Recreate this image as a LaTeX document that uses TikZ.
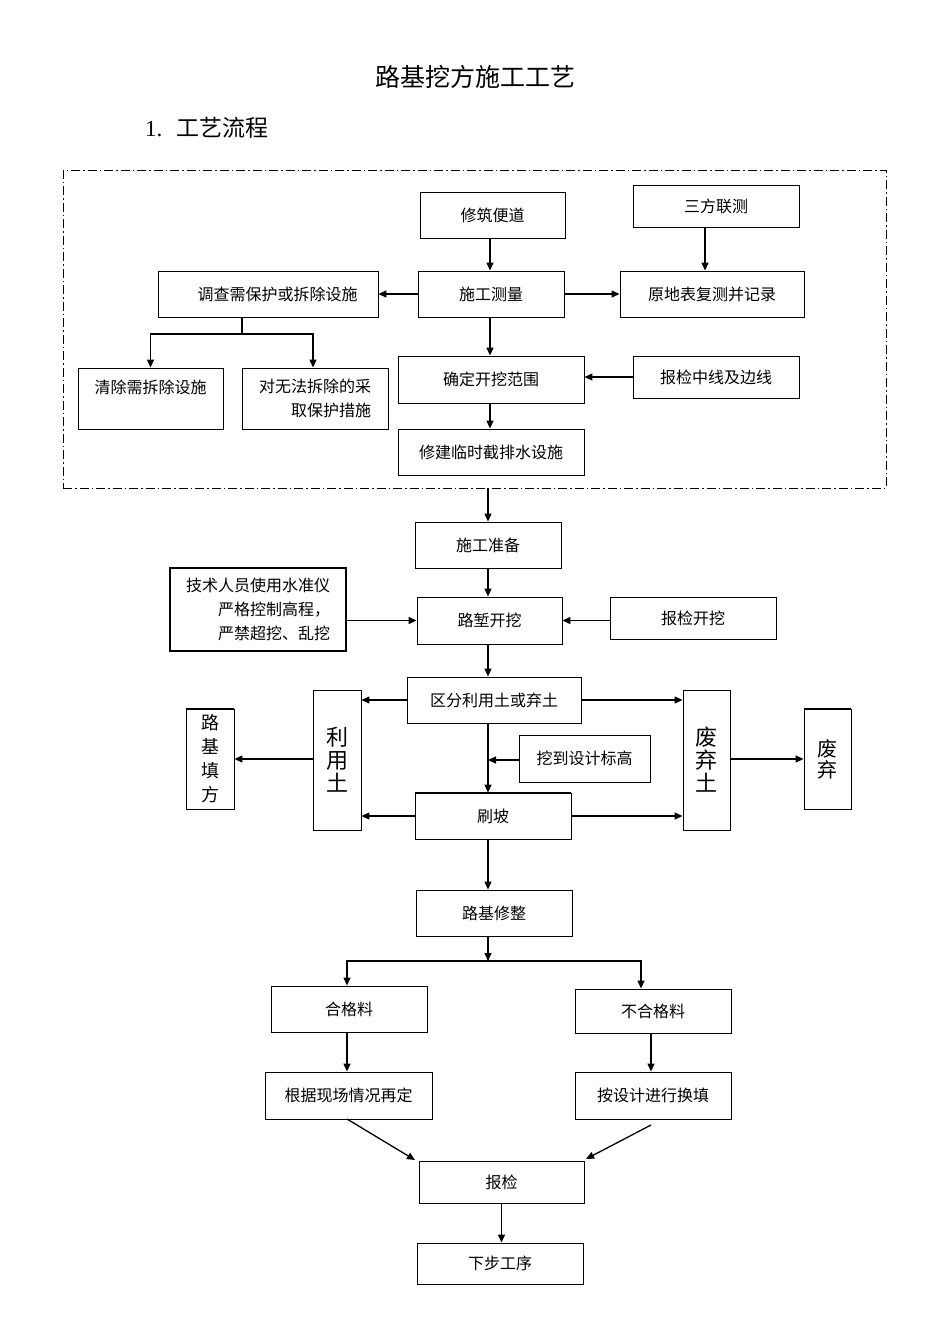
\documentclass[tikz,border=0pt]{standalone}
\usepackage{fontspec}
\setmainfont{Liberation Serif}
\newfontfamily\cjk{Noto Sans CJK SC}
\usetikzlibrary{arrows.meta,calc}
\begin{document}
\begin{tikzpicture}[x=1pt,y=-1pt,
  box/.style={draw, line width=0.9pt, inner sep=0pt, align=center, font=\cjk\fontsize{16}{24}\selectfont},
  sz/.style 2 args={minimum width=#1, minimum height=#2},
  arr/.style={line width=1.3pt, -{Triangle[length=8pt,width=7pt]}},
  ln/.style={line width=1.3pt},
  vbig/.style={font=\cjk\fontsize{22}{23}\selectfont},
  vsmall/.style={font=\cjk\fontsize{18}{24}\selectfont}]
\useasboundingbox (0,0) rectangle (950,1344);

% titles
\node[font=\cjk\fontsize{25}{30}\selectfont] (title) at (475,77) {路基挖方施工工艺};
\node[anchor=west, font=\fontsize{23}{28}\selectfont, inner sep=0pt] (sec) at (145,128) {1.\hspace{0.6em}{\cjk 工艺流程}};

% dash-dot frame
\node[draw, line width=0.9pt, dash pattern=on 9pt off 3pt on 1.5pt off 3pt, sz={823}{318}, inner sep=0pt] (frame) at (474.5,329) {};

% upper part
\node[box, sz={145}{46}] (xzbd) at (492.5,215) {修筑便道};
\node[box, sz={166}{42}] (sflc) at (716,206) {三方联测};
\node[box, sz={146}{46}] (sgcl) at (491,294) {施工测量};
\node[box, sz={184}{46}] (ydb) at (712,294) {原地表复测并记录};
\node[box, sz={220}{46}] (dc) at (268,294) {\hspace{1.2em}调查需保护或拆除设施};
\node[box, sz={145}{61}] (qc) at (150.5,398.5) {清除需拆除设施\\\mbox{}};
\node[box, sz={146}{61}, align=right] (dw) at (315,398.5) {对无法拆除的采\\取保护措施\hspace{0.3em}};
\node[box, sz={186}{47}] (qd) at (491,379.5) {确定开挖范围};
\node[box, sz={166}{42}] (bjzx) at (716,377) {报检中线及边线};
\node[box, sz={186}{46}] (xj) at (491,452) {修建临时截排水设施};

% middle part
\node[box, sz={146}{46}] (sgzb) at (488,545) {施工准备};
\node[box, sz={176}{83}, align=right, line width=1.4pt] (js) at (258,609.5) {技术人员使用水准仪\\严格控制高程，\\严禁超挖、乱挖};
\node[box, sz={145}{47}] (lqkw) at (489.5,620.5) {路堑开挖};
\node[box, sz={166}{42}] (bjkw) at (693,618) {报检开挖};
\node[box, sz={174}{46}] (qf) at (494,700) {区分利用土或弃土};
\node[box, sz={48}{140}, vbig] (lyt) at (337,760) {利\\用\\土};
\node[box, sz={48}{100}, vsmall] (ljtf) at (210,759) {路\\基\\填\\方};
\node[box, sz={131}{47}] (wd) at (584.5,758.5) {挖到设计标高};
\node[box, sz={47}{140}, vbig] (fqt) at (706.5,760) {废\\弃\\土};
\node[box, sz={47}{100}, font=\cjk\fontsize{20}{21}\selectfont] (fq) at (827.5,759) {废\\弃};
\node[box, sz={156}{46}] (sp) at (493,816) {刷坡};
\draw[line width=1.6pt] (ljtf.north west) -- (ljtf.north east);
\draw[line width=1.6pt] (fq.north west) -- (fq.north east);
\draw[line width=1.6pt] (sp.north west) -- (sp.north east);

% lower part
\node[box, sz={156}{46}] (ljxz) at (494,913) {路基修整};
\node[box, sz={156}{46}] (hgl) at (349,1009) {合格料};
\node[box, sz={156}{44}] (bhgl) at (653,1011) {不合格料};
\node[box, sz={167}{47}] (gj) at (348.5,1095.5) {根据现场情况再定};
\node[box, sz={156}{47}] (asj) at (653,1095.5) {按设计进行换填};
\node[box, sz={165}{42}] (bj) at (501.5,1182) {报检};
\node[box, sz={166}{41}] (xbgx) at (500,1263.5) {下步工序};

% junctions and offset points
\coordinate (j1) at (242,334);
\coordinate (j2) at (488,961);
\coordinate (jw) at (488,760);
\coordinate (a1) at (490,238);
\coordinate (a2) at (705,227);
\coordinate (a3) at (490,317);
\coordinate (a4) at (490,403);
\coordinate (a5) at (347,1032);
\coordinate (a6) at (651,1033);
\coordinate (a7) at (347,1119);
\coordinate (a8) at (651,1125);
\coordinate (a9) at (313,334);
\coordinate (b1) at (641,961);
\coordinate (b2) at (347,961);
\coordinate (t1) at (415,1160);
\coordinate (t2) at (586,1159);

% connectors upper
\draw[arr] (a1) -- (a1 |- sgcl.north);
\draw[arr] (a2) -- (a2 |- ydb.north);
\draw[arr] (sgcl.west) -- (dc.east);
\draw[arr] (sgcl.east) -- (ydb.west);
\draw[ln] (j1 |- dc.south) -- (j1);
\draw[arr] (j1) -| (qc.north);
\draw[arr] (j1) -| (a9 |- dw.north);
\draw[arr] (a3) -- (a3 |- qd.north);
\draw[arr] (bjzx.west) -- (bjzx.west -| qd.east);
\draw[arr] (a4) -- (a4 |- xj.north);

% connectors middle
\draw[arr] (frame.south -| sgzb.north) -- (sgzb.north);
\draw[arr] (sgzb.south) -- (sgzb.south |- lqkw.north);
\draw[arr] (js.east |- lqkw.west) -- (lqkw.west);
\draw[arr] (bjkw.west |- lqkw.east) -- (lqkw.east);
\draw[arr] (j2 |- lqkw.south) -- (j2 |- qf.north);
\draw[arr] (qf.west) -- (qf.west -| lyt.east);
\draw[arr] (qf.east) -- (qf.east -| fqt.west);
\draw[arr] (j2 |- qf.south) -- (j2 |- sp.north);
\draw[arr] (wd.west |- jw) -- (jw);
\draw[arr] (lyt.west |- ljtf.east) -- (ljtf.east);
\draw[arr] (fqt.east |- fq.west) -- (fq.west);
\draw[arr] (sp.west) -- (sp.west -| lyt.east);
\draw[arr] (sp.east) -- (sp.east -| fqt.west);

% connectors lower
\draw[arr] (j2 |- sp.south) -- (j2 |- ljxz.north);
\draw[arr] (j2 |- ljxz.south) -- (j2);
\draw[arr] (j2) -- (b2) -- (b2 |- hgl.north);
\draw[arr] (j2) -- (b1) -- (b1 |- bhgl.north);
\draw[arr] (a5) -- (a5 |- gj.north);
\draw[arr] (a6) -- (a6 |- asj.north);
\draw[arr] (a7) -- (t1);
\draw[arr] (a8) -- (t2);
\draw[arr] (bj.south) -- (bj.south |- xbgx.north);
\end{tikzpicture}
\end{document}
